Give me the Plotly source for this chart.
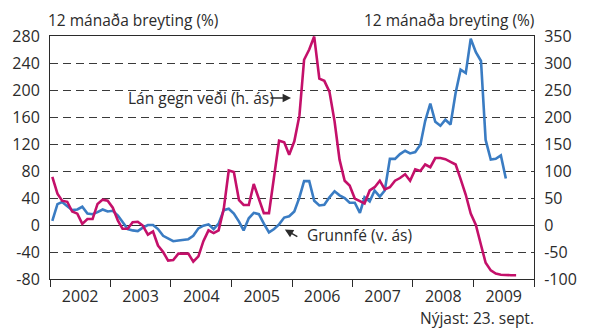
import plotly.graph_objects as go

# Grunnfé, 12-month change (%), monthly from Jan 2002 — left axis
grunnfe = [
    6, 31, 34, 28, 22, 23, 27, 17, 16, 19, 23, 20,
    21, 14, 5, -6, -8, -9, -4, 0, 0, -6, -16, -20,
    -24, -23, -22, -21, -16, -5, -1, 1, -6, 2, 22, 24,
    17, 5, -8, 10, 18, 16, 2, -11, -6, 1, 11, 13,
    20, 41, 65, 65, 36, 29, 30, 41, 50, 44, 40, 33,
    33, 18, 41, 35, 51, 42, 51, 98, 98, 105, 110, 106,
    108, 119, 154, 180, 153, 147, 156, 149, 196, 230, 225, 276,
    256, 243, 126, 97, 98, 103, 69,
]

# Lán gegn veði, 12-month change (%), monthly from Jan 2002 — right axis
lan_gegn_vedi = [
    89, 58, 45, 43, 25, 21, 2, 11, 11, 39, 47, 45,
    32, 8, -7, -7, 5, 6, -1, -18, -12, -38, -50, -66,
    -65, -53, -53, -53, -68, -58, -30, -10, -15, -10, 30, 101,
    98, 46, 37, 37, 76, 49, 22, 22, 88, 156, 153, 130,
    155, 203, 306, 325, 349, 271, 267, 247, 192, 121, 82, 73,
    49, 44, 40, 64, 70, 82, 66, 70, 82, 87, 94, 82,
    103, 100, 112, 107, 124, 124, 122, 117, 112, 85, 56, 21,
    0, -37, -70, -84, -90, -92, -93, -93, -93,
]

years = list(range(2002, 2010))
left_ticks = list(range(-80, 281, 40))
right_ticks = list(range(-100, 351, 50))


def month_dates(n):
    return [f"{2002 + i // 12}-{i % 12 + 1:02d}-15" for i in range(n)]


BLUE = "#3a7cc3"
MAGENTA = "#c4106a"
INK = "#2b2b2b"
FONT = "Open Sans"

fig = go.Figure()
fig.add_trace(go.Scatter(
    x=month_dates(len(grunnfe)), y=grunnfe, mode="lines",
    line=dict(color=BLUE, width=2.6), yaxis="y", name="Grunnfé",
))
fig.add_trace(go.Scatter(
    x=month_dates(len(lan_gegn_vedi)), y=lan_gegn_vedi, mode="lines",
    line=dict(color=MAGENTA, width=2.6), yaxis="y2", name="Lán gegn veði",
))

fig.update_layout(
    width=589, height=332,
    margin=dict(l=41, r=40, t=36, b=53),
    paper_bgcolor="white", plot_bgcolor="white",
    showlegend=False,
    font=dict(family=FONT, size=15.5, color=INK),
    xaxis=dict(
        type="date", range=["2002-01-01", "2010-01-01"],
        # year labels sit mid-year, separators at each 1 January
        tickvals=[f"{y}-07-02" for y in years],
        ticktext=[str(y) for y in years],
        ticks="", ticklabelstandoff=3, tickfont=dict(size=16),
        minor=dict(ticks="outside", dtick="M12", tick0="2002-01-01",
                   ticklen=7, tickcolor=INK, tickwidth=1, showgrid=False),
        showline=True, linecolor=INK, linewidth=1, mirror=True,
        showgrid=False, zeroline=False,
    ),
    yaxis=dict(
        range=[-80, 280], tickvals=left_ticks,
        ticktext=[str(v) for v in left_ticks],
        ticks="", ticklabelstandoff=6, tickfont=dict(size=16),
        showgrid=True, gridcolor="#3a3a3a", gridwidth=1, griddash="8px,5px",
        zeroline=True, zerolinecolor=INK, zerolinewidth=1,
        showline=True, linecolor=INK, linewidth=1,
    ),
    yaxis2=dict(
        range=[-100, 350], tickvals=right_ticks,
        ticktext=[str(v) for v in right_ticks],
        overlaying="y", side="right",
        ticks="", ticklabelstandoff=6, tickfont=dict(size=16),
        showgrid=False, zeroline=False,
        showline=True, linecolor=INK, linewidth=1,
    ),
)

annotations = [
    dict(text="12 mánaða breyting (%)", xref="paper", yref="paper",
         x=-0.008, y=1.066, xanchor="left", yanchor="middle", showarrow=False),
    dict(text="12 mánaða breyting (%)", xref="paper", yref="paper",
         x=1.004, y=1.066, xanchor="right", yanchor="middle", showarrow=False),
    dict(text="Nýjast: 23. sept.", xref="paper", yref="paper",
         x=1.004, y=-0.162, xanchor="right", yanchor="middle", showarrow=False),
    # series labels with pointer arrows
    dict(text="Lán gegn veði (h. ás)", xref="paper", yref="paper",
         x=0.157, y=0.745, xanchor="left", yanchor="middle", showarrow=False),
    dict(text="", xref="paper", yref="paper", x=0.498, y=0.745,
         ax=-22, ay=0, showarrow=True, arrowhead=2, arrowsize=1.2,
         arrowwidth=1.4, arrowcolor=INK),
    dict(text="Grunnfé (v. ás)", xref="paper", yref="paper",
         x=0.526, y=0.181, xanchor="left", yanchor="middle", showarrow=False),
    dict(text="", xref="paper", yref="paper", x=0.4852, y=0.2037,
         ax=14, ay=8, showarrow=True, arrowhead=2, arrowsize=1.2,
         arrowwidth=1.4, arrowcolor=INK),
]
fig.update_layout(annotations=annotations)

fig.write_html("out.html")
